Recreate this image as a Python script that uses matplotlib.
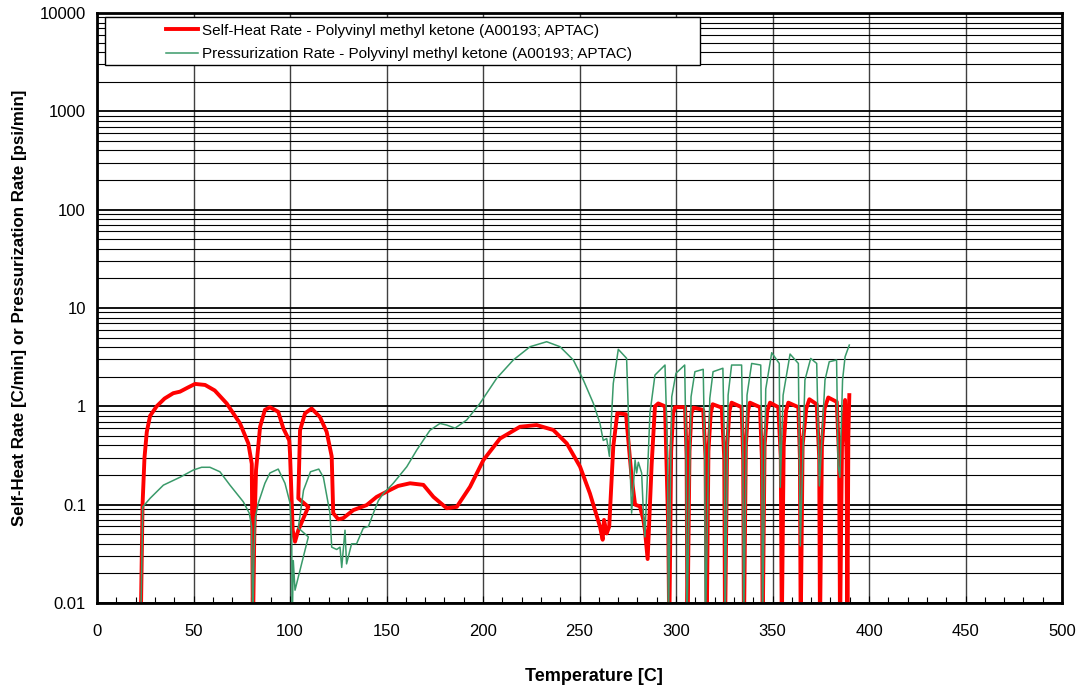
import matplotlib
matplotlib.use("Agg")
import matplotlib.pyplot as plt
from matplotlib.patches import Rectangle
from matplotlib.ticker import FixedLocator, LogLocator, NullFormatter, FuncFormatter

plt.rcParams["font.family"] = ["Liberation Sans", "DejaVu Sans"]

RED = "#FF0000"
GREEN = "#3A9A6A"

# Self-heat rate [C/min] vs temperature [C]
heat_temp = [
    22.6, 23.6, 24.6, 25.8, 27.5, 30.9, 35.0, 39.5, 43.0, 47.0, 50.8, 56.0, 61.0, 67.2,
    74.1, 78.4, 80.2, 80.8, 81.5, 82.4, 84.5, 87.0, 89.6, 93.9, 96.5, 99.6, 100.0, 101.4,
    102.6, 104.3, 109.5, 104.3, 105.2, 107.8, 111.2, 115.5, 119.0, 121.6, 122.4, 125.0,
    127.6, 132.8, 139.7, 144.9, 151.8, 156.0, 162.2, 169.1, 174.3, 181.2, 186.4, 193.3,
    200.2, 208.8, 219.2, 227.8, 236.4, 243.4, 250.3, 255.4, 260.6, 262.0, 262.7, 264.1,
    265.4, 267.5, 269.6, 274.1, 277.0, 278.8, 281.3, 283.1, 283.9, 285.3, 287.4, 289.1,
    290.8, 294.3, 296.0, 296.5,
    297.5, 298.5, 299.5, 304.7, 305.5, 305.9,
    307.0, 308.0, 309.0, 314.1, 315.3, 315.9,
    316.8, 318.0, 319.0, 323.7, 325.0, 325.4,
    326.5, 327.7, 328.8, 334.0, 334.8, 335.2,
    336.2, 337.3, 338.3, 343.5, 344.5, 344.9,
    345.9, 347.3, 348.7, 353.0, 354.3, 354.8,
    355.8, 357.0, 358.2, 363.4, 364.2, 364.6,
    365.6, 367.5, 369.1, 372.9, 374.2, 374.6,
    375.6, 377.0, 378.9, 383.3, 384.5, 385.0,
    386.0, 386.8, 387.6, 388.4, 388.8, 389.3, 389.8,
]
heat_rate = [
    0.005, 0.10, 0.30, 0.55, 0.80, 1.00, 1.20, 1.36, 1.41, 1.55, 1.69, 1.65, 1.45, 1.07,
    0.67, 0.42, 0.26, 0.005, 0.05, 0.225, 0.62, 0.92, 0.98, 0.88, 0.60, 0.45, 0.333, 0.055,
    0.042, 0.055, 0.095, 0.116, 0.57, 0.85, 0.95, 0.78, 0.55, 0.31, 0.082, 0.071,
    0.073, 0.088, 0.099, 0.12, 0.141, 0.155, 0.165, 0.159, 0.12, 0.092, 0.095, 0.152,
    0.284, 0.47, 0.62, 0.645, 0.575, 0.42, 0.243, 0.13, 0.06, 0.044, 0.07, 0.051,
    0.06, 0.39, 0.85, 0.83, 0.19, 0.10, 0.096, 0.07, 0.055, 0.028, 0.26, 1.00,
    1.07, 1.00, 0.055, 0.005,
    0.35, 0.85, 0.98, 0.98, 0.30, 0.005,
    0.35, 0.85, 0.97, 0.92, 0.30, 0.005,
    0.35, 0.85, 1.05, 0.97, 0.30, 0.005,
    0.40, 0.90, 1.09, 0.98, 0.30, 0.005,
    0.40, 0.90, 1.09, 0.98, 0.30, 0.005,
    0.40, 0.90, 1.09, 0.98, 0.30, 0.005,
    0.40, 0.90, 1.09, 0.98, 0.30, 0.005,
    0.40, 0.95, 1.18, 1.05, 0.30, 0.005,
    0.40, 0.95, 1.23, 1.11, 0.30, 0.005,
    0.40, 0.73, 1.16, 0.30, 0.005, 0.50, 1.30,
]

# Pressurization rate [psi/min] vs temperature [C]
press_temp = [
    22.6, 23.7, 27.5, 34.4, 43.0, 49.9, 54.2, 58.5, 63.7, 68.9, 75.8, 78.9, 80.1, 80.7,
    81.3, 82.1, 83.6, 87.0, 89.6, 93.9, 97.4, 100.0, 100.9, 101.1, 101.7, 102.6, 109.5,
    104.3, 107.0, 110.6, 114.9, 117.3, 120.7, 121.6, 124.2, 125.9, 126.8, 128.5, 129.3,
    131.9, 134.5, 138.0, 140.6, 143.2, 145.8, 148.4, 151.8, 153.5, 160.5, 165.7, 172.5,
    177.7, 181.2, 185.5, 191.5, 198.4, 207.1, 215.7, 224.4, 233.0, 239.9, 246.8, 252.0,
    257.2, 260.6, 262.3, 264.1, 265.5, 267.5, 270.1, 274.4, 277.0, 278.8, 279.6, 280.5,
    282.2, 283.1, 283.9, 286.5, 289.1, 294.3, 295.7, 296.0,
    297.8, 300.0, 304.5, 305.3, 305.6,
    307.8, 309.8, 314.1, 314.9, 315.2,
    317.5, 319.2, 324.3, 325.1, 325.4,
    327.0, 328.8, 334.0, 334.7, 335.0,
    336.8, 339.2, 343.9, 344.5, 344.8,
    346.5, 349.6, 353.5, 354.0,
    355.5, 359.1, 363.4, 364.4,
    366.8, 369.8, 372.9, 374.3,
    377.2, 379.4, 383.2, 384.0, 384.9,
    386.3, 387.6, 389.8,
]
press_rate = [
    0.005, 0.095, 0.116, 0.158, 0.19, 0.225, 0.24, 0.24, 0.216, 0.158, 0.107, 0.082, 0.06,
    0.005, 0.03, 0.075, 0.104, 0.165, 0.21, 0.23, 0.165, 0.104, 0.047, 0.005, 0.027, 0.0135,
    0.047, 0.058, 0.14, 0.216, 0.23, 0.19, 0.082, 0.037, 0.035, 0.037, 0.023, 0.055, 0.025,
    0.04, 0.04, 0.058, 0.06, 0.082, 0.11, 0.13, 0.152, 0.165, 0.243, 0.36, 0.57,
    0.67, 0.645, 0.60, 0.725, 1.07, 1.93, 2.96, 4.04, 4.54, 4.04, 2.96, 1.85,
    1.07, 0.67, 0.45, 0.47, 0.31, 1.71, 3.8, 3.08, 0.082, 0.285, 0.21, 0.27,
    0.21, 0.082, 0.047, 0.85, 2.08, 2.63, 0.30, 0.005,
    1.25, 2.17, 2.63, 0.30, 0.005,
    1.25, 2.25, 2.38, 0.30, 0.005,
    1.20, 2.25, 2.44, 0.30, 0.005,
    1.30, 2.63, 2.63, 0.30, 0.005,
    1.30, 2.73, 2.63, 0.30, 0.005,
    1.50, 3.51, 2.73, 0.15,
    1.30, 3.40, 2.73, 0.038,
    1.85, 3.07, 2.73, 0.155,
    1.85, 2.84, 2.96, 0.25, 0.19,
    1.85, 3.19, 4.20,
]

x_ticks = [0, 50, 100, 150, 200, 250, 300, 350, 400, 450, 500]
y_ticks = [0.01, 0.1, 1, 10, 100, 1000, 10000]

heat_label = "Self-Heat Rate - Polyvinyl methyl ketone (A00193; APTAC)"
press_label = "Pressurization Rate - Polyvinyl methyl ketone (A00193; APTAC)"

fig = plt.figure(figsize=(10.81, 6.91), dpi=100)
ax = fig.add_axes([97 / 1081, 88 / 691, 965 / 1081, 590 / 691])

ax.plot(heat_temp, heat_rate, color=RED, lw=2.8, label=heat_label, zorder=3,
        solid_joinstyle="round")
ax.plot(press_temp, press_rate, color=GREEN, lw=1.1, label=press_label, zorder=3)

ax.set_yscale("log")
ax.set_xlim(0, 500)
ax.set_ylim(0.01, 10000)

ax.xaxis.set_major_locator(FixedLocator(x_ticks))
ax.xaxis.set_minor_locator(FixedLocator(range(0, 501, 10)))
ax.yaxis.set_major_locator(FixedLocator(y_ticks))
ax.yaxis.set_minor_locator(LogLocator(base=10, subs=range(2, 10), numticks=20))
ax.yaxis.set_major_formatter(FuncFormatter(lambda v, p: f"{v:g}"))
ax.yaxis.set_minor_formatter(NullFormatter())

ax.tick_params(axis="x", which="both", direction="in", labelsize=12, pad=15)
ax.tick_params(axis="x", which="major", length=5)
ax.tick_params(axis="x", which="minor", length=4, width=0.8)
ax.tick_params(axis="y", which="both", length=0, labelsize=12, pad=8)

ax.grid(True, axis="x", which="major", color="#404040", lw=1.0)
ax.grid(True, axis="y", which="major", color="black", lw=1.3)
ax.grid(True, axis="y", which="minor", color="black", lw=0.8)
ax.set_axisbelow(True)

for s in ax.spines.values():
    s.set_linewidth(2.0)
    s.set_zorder(6)

ax.set_xlabel("Temperature [C]", fontsize=13, fontweight="bold", labelpad=21)
ax.xaxis.label.set_x(0.515)
ax.set_ylabel("Self-Heat Rate [C/min] or Pressurization Rate [psi/min]",
              fontsize=12.2, fontweight="bold", labelpad=9)

# legend box: wide white frame with the entries placed in its middle
ax.add_patch(Rectangle((0.0083, 0.912), 0.617, 0.081, transform=ax.transAxes,
                       facecolor="white", edgecolor="black", lw=1.0, zorder=4))
leg = ax.legend(loc="upper left", bbox_to_anchor=(0.060, 1.0), frameon=False,
                fontsize=11, handlelength=2.15, handletextpad=0.25,
                labelspacing=0.6, borderpad=0.2)
leg.set_zorder(5)

fig.savefig("out.png", dpi=100)
